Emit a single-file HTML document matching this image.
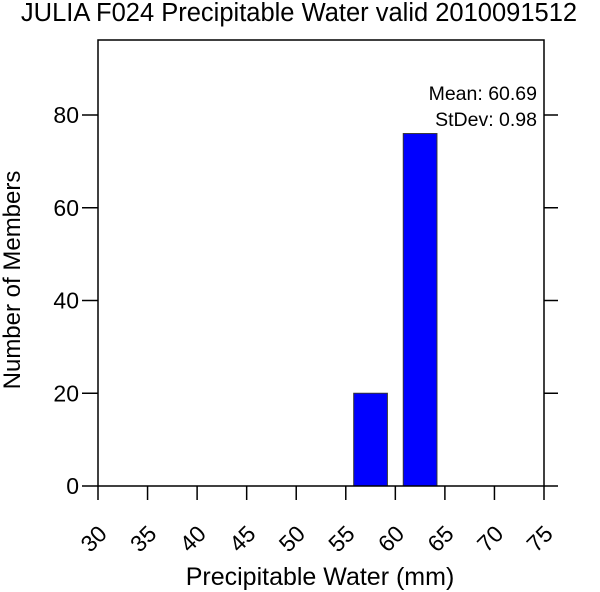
<!DOCTYPE html>
<html><head><meta charset="utf-8"><style>
body{margin:0;background:#fff;}
svg{display:block;font-family:"Liberation Sans",sans-serif;}
</style></head><body>
<svg id="chart" width="600" height="592">
<text x="299" y="21" text-anchor="middle" font-size="25.5">JULIA F024 Precipitable Water valid 2010091512</text>
<g id="bars"></g>
<rect x="98" y="40" width="446" height="446" fill="none" stroke="#000" stroke-width="1.5"/>
<g id="axes"></g>
<text x="537" y="100" text-anchor="end" font-size="19.5">Mean: 60.69</text>
<text x="537" y="126" text-anchor="end" font-size="19.5">StDev: 0.98</text>
<text x="320" y="585" text-anchor="middle" font-size="25">Precipitable Water (mm)</text>
<text transform="translate(20,280) rotate(-90)" text-anchor="middle" font-size="24">Number of Members</text>
</svg>
<script>
const binStarts = [55, 60];
const counts = [20, 76];
const xTicks = [30,35,40,45,50,55,60,65,70,75];
const yTicks = [0,20,40,60,80];
const NS="http://www.w3.org/2000/svg";
function xs(v){return 98+(v-30)*(446/45);}
function ys(v){return 486-v*(371/80);}
const bars=document.getElementById('bars'), axes=document.getElementById('axes');
binStarts.forEach((b,i)=>{
  const r=document.createElementNS(NS,'rect');
  
  
  const x0=xs(b+0.8), x1=xs(b+4.2);
  r.setAttribute('x',x0);r.setAttribute('width',x1-x0);
  r.setAttribute('y',ys(counts[i]));r.setAttribute('height',ys(0)-ys(counts[i]));
  r.setAttribute('fill','#0000ff');r.setAttribute('stroke','#333');r.setAttribute('stroke-width','1');
  bars.appendChild(r);
});
xTicks.forEach(t=>{
  const x=xs(t);
  const l=document.createElementNS(NS,'line');
  
  
  l.setAttribute('x1',x);l.setAttribute('x2',x);l.setAttribute('y1',486);l.setAttribute('y2',500);
  l.setAttribute('stroke','#000');l.setAttribute('stroke-width','1.5');axes.appendChild(l);
  const tx=document.createElementNS(NS,'text');
  
  
  tx.setAttribute('transform','translate('+(x-3)+',540) rotate(-45)');
  tx.setAttribute('text-anchor','middle');tx.setAttribute('dominant-baseline','middle');
  tx.setAttribute('font-size','23');tx.textContent=t;axes.appendChild(tx);
});
yTicks.forEach(t=>{
  const y=ys(t);
  [[82,98],[544,558]].forEach((p,j)=>{
    const l=document.createElementNS(NS,'line');
    
    
    l.setAttribute('x1',p[0]);l.setAttribute('x2',p[1]);l.setAttribute('y1',y);l.setAttribute('y2',y);
    l.setAttribute('stroke','#000');l.setAttribute('stroke-width','1.5');axes.appendChild(l);
  });
  const tx=document.createElementNS(NS,'text');
  
  
  tx.setAttribute('x',79);tx.setAttribute('y',y+8);tx.setAttribute('text-anchor','end');
  tx.setAttribute('font-size','23');tx.textContent=t;axes.appendChild(tx);
});
</script>
</body></html>
